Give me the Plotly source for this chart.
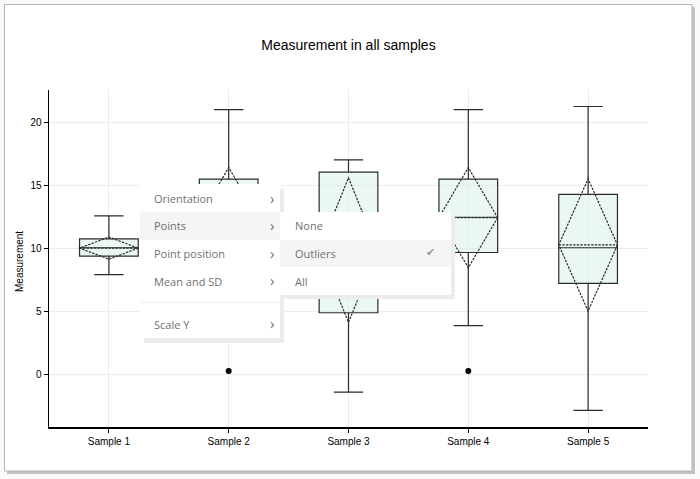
import plotly.graph_objects as go

# ---- data ----
categories = ["Sample 1", "Sample 2", "Sample 3", "Sample 4", "Sample 5"]
lower_fence = [7.9, 3.85, -1.43, 3.85, -2.88]
q1_values = [9.37, 9.65, 4.87, 9.65, 7.2]
median_values = [10.03, 12.45, 10.0, 12.45, 10.03]
q3_values = [10.74, 15.48, 16.03, 15.48, 14.26]
upper_fence = [12.56, 21.0, 17.0, 21.0, 21.24]
mean_values = [10.0, 12.42, 9.84, 12.42, 10.25]
sd_values = [0.88, 3.98, 5.74, 3.98, 5.25]
outlier_x = ["Sample 2", "Sample 4"]
outlier_y = [0.24, 0.24]
y_tick_values = [0, 5, 10, 15, 20]

menu_items = ["Orientation", "Points", "Point position", "Mean and SD", "Scale Y"]
submenu_items = ["None", "Outliers", "All"]

# ---- layout geometry (pixels) ----
FIG_W, FIG_H = 700, 479
ML, MR, MT, MB = 49, 52, 90, 52
PW = FIG_W - ML - MR
PH = FIG_H - MT - MB


def px_x(px):
    return (px - ML) / PW


def px_y(py):
    return (FIG_H - MB - py) / PH


fig = go.Figure()

fig.add_trace(go.Box(
    x=categories,
    q1=q1_values,
    median=median_values,
    q3=q3_values,
    lowerfence=lower_fence,
    upperfence=upper_fence,
    mean=mean_values,
    sd=sd_values,
    boxmean="sd",
    boxpoints=False,
    whiskerwidth=0.5,
    fillcolor="rgba(214,239,234,0.5)",
    line=dict(color="#2b2b2b", width=1.2),
    showlegend=False,
    hoverinfo="skip",
))

fig.add_trace(go.Scatter(
    x=outlier_x, y=outlier_y, mode="markers",
    marker=dict(color="black", size=6),
    showlegend=False, hoverinfo="skip",
))

shapes = []
# card shadow and card
shapes.append(dict(type="rect", xref="paper", yref="paper", layer="below",
                   x0=px_x(7), x1=px_x(695), y0=px_y(7), y1=px_y(474),
                   fillcolor="#c2c2c2", line=dict(width=0)))
shapes.append(dict(type="rect", xref="paper", yref="paper", layer="below",
                   x0=px_x(4.5), x1=px_x(692), y0=px_y(4.5), y1=px_y(471),
                   fillcolor="white", line=dict(color="#b5b5b5", width=1)))


def rect(x0, y0, x1, y1, color):
    shapes.append(dict(type="rect", xref="paper", yref="paper", layer="above",
                       x0=px_x(x0), x1=px_x(x1), y0=px_y(y0), y1=px_y(y1),
                       fillcolor=color, line=dict(width=0)))


# main menu
rect(144, 189, 284, 343, "#ececec")
rect(140, 184, 280, 338, "white")
rect(140, 212, 280, 240, "#f5f5f5")
shapes.append(dict(type="line", xref="paper", yref="paper", layer="above",
                   x0=px_x(140), x1=px_x(280), y0=px_y(302.5), y1=px_y(302.5),
                   line=dict(color="#eeeeee", width=1)))
# submenu
rect(284, 216, 455, 299, "#ececec")
rect(280, 212, 451, 295, "white")
rect(280, 240, 451, 267, "#f5f5f5")

annotations = []
menu_y = [198.5, 226, 253.5, 281, 324]
for label, yy in zip(menu_items, menu_y):
    annotations.append(dict(text=label, x=px_x(152), y=px_y(yy), xref="paper", yref="paper",
                            xanchor="left", yanchor="middle", showarrow=False,
                            font=dict(family="Open Sans", size=11, color="#707070")))
    annotations.append(dict(text="›", x=px_x(272), y=px_y(yy - 1), xref="paper", yref="paper",
                            xanchor="center", yanchor="middle", showarrow=False,
                            font=dict(family="Open Sans", size=15, color="#707070")))
sub_y = [226, 253.5, 281]
for label, yy in zip(submenu_items, sub_y):
    annotations.append(dict(text=label, x=px_x(293), y=px_y(yy), xref="paper", yref="paper",
                            xanchor="left", yanchor="middle", showarrow=False,
                            font=dict(family="Open Sans", size=11, color="#707070")))
annotations.append(dict(text="✔", x=px_x(430), y=px_y(252.5), xref="paper", yref="paper",
                        xanchor="center", yanchor="middle", showarrow=False,
                        font=dict(family="DejaVu Sans", size=11, color="#9a9a9a")))
# y-axis title
annotations.append(dict(text="Measurement", x=px_x(19), y=px_y(262), xref="paper", yref="paper",
                        xanchor="center", yanchor="middle", showarrow=False, textangle=-90,
                        font=dict(family="Liberation Sans, Arial", size=10, color="black")))

fig.update_layout(
    width=FIG_W, height=FIG_H,
    margin=dict(l=ML, r=MR, t=MT, b=MB, pad=0),
    paper_bgcolor="#fafafa",
    plot_bgcolor="rgba(0,0,0,0)",
    title=dict(text="Measurement in all samples", x=0.5, xref="paper",
               y=1 - 45 / FIG_H, yref="container", yanchor="middle", xanchor="center",
               font=dict(family="Liberation Sans, Arial", size=14, color="black")),
    font=dict(family="Liberation Sans, Arial", size=10, color="black"),
    boxgap=0.3,
    boxgroupgap=0.3,
    shapes=shapes,
    annotations=annotations,
    xaxis=dict(type="category", categoryorder="array", categoryarray=categories,
               range=[-0.5, 4.5], showgrid=True, gridcolor="#ececec", gridwidth=1,
               showline=True, linecolor="black", linewidth=1.5,
               ticks="outside", ticklen=4, tickcolor="black", tickwidth=1,
               tickfont=dict(size=10), zeroline=False, fixedrange=True),
    yaxis=dict(range=[-4.2, 22.55], tickvals=y_tick_values, showgrid=True,
               gridcolor="#ececec", gridwidth=1, zeroline=False,
               showline=True, linecolor="black", linewidth=1.5,
               ticks="outside", ticklen=4, tickcolor="black", tickwidth=1,
               tickfont=dict(size=10), fixedrange=True),
)

fig.write_html(
    "out.html",
    config={"displayModeBar": False, "staticPlot": True},
    post_script="document.body.style.margin='0';document.body.style.overflow='hidden';",
)
